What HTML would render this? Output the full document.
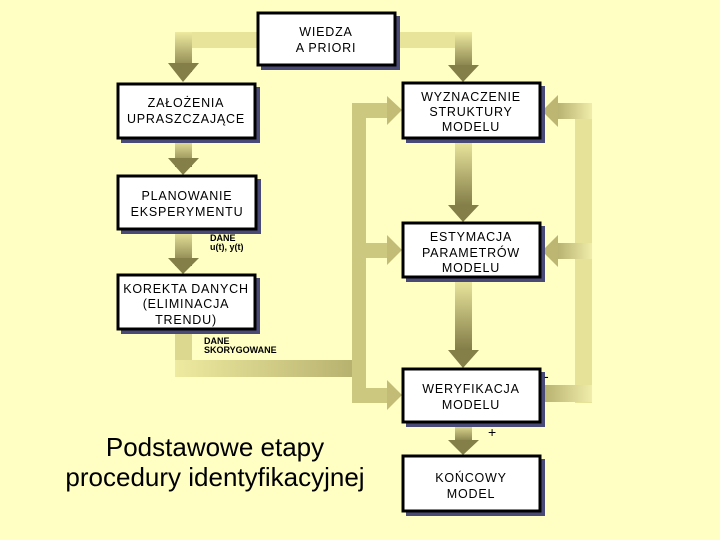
<!DOCTYPE html>
<html><head><meta charset="utf-8"><style>
body{margin:0;background:#ffffc4}
svg{display:block}
text{font-family:"Liberation Sans",sans-serif;fill:#000}
.b{font-size:12.5px;letter-spacing:0.8px;text-anchor:middle}
.s{font-size:9px;font-weight:bold}
</style></head><body>
<svg width="720" height="540" viewBox="0 0 720 540" xmlns="http://www.w3.org/2000/svg">
<defs>
<linearGradient id="gv" x1="0" y1="0" x2="0" y2="1"><stop offset="0" stop-color="#eeeaa0"/><stop offset="1" stop-color="#7e7844"/></linearGradient>
<linearGradient id="gh" x1="0" y1="0" x2="1" y2="0"><stop offset="0" stop-color="#eeeaa0"/><stop offset="1" stop-color="#b4ae6c"/></linearGradient>
<linearGradient id="ghr" x1="1" y1="0" x2="0" y2="0"><stop offset="0" stop-color="#f0ecaa"/><stop offset="1" stop-color="#b4ae6c"/></linearGradient>
</defs>
<rect width="720" height="540" fill="#ffffc4"/>
<rect x="175" y="32" width="90" height="16" fill="#e8e49a"/>
<rect x="175" y="32" width="17" height="40" fill="url(#gv)"/>
<polygon points="168,63 199,63 183,82" fill="#847e48"/>
<rect x="390" y="32" width="82" height="16" fill="#e8e49a"/>
<rect x="455" y="32" width="17" height="38" fill="url(#gv)"/>
<polygon points="448,65 479,65 463,82" fill="#847e48"/>
<rect x="175" y="139" width="17" height="28" fill="url(#gv)"/>
<polygon points="168,158 199,158 183,175" fill="#847e48"/>
<rect x="175" y="230" width="17" height="36" fill="url(#gv)"/>
<polygon points="168,258 199,258 183,274" fill="#847e48"/>
<rect x="175" y="330" width="17" height="46" fill="#dcd890"/>
<rect x="175" y="360" width="190" height="17" fill="url(#gh)"/>
<rect x="352" y="103" width="14" height="300" fill="#cdc880"/>
<rect x="352" y="103" width="40" height="15" fill="#cdc880"/>
<polygon points="387,96 387,125 402,110" fill="#c2bc76"/>
<rect x="352" y="243" width="40" height="15" fill="#cdc880"/>
<polygon points="387,235 387,265 402,250" fill="#c2bc76"/>
<rect x="352" y="388" width="40" height="15" fill="#cdc880"/>
<polygon points="387,380 387,410 402,395" fill="#c2bc76"/>
<rect x="575" y="103" width="17" height="300" fill="#e6e298"/>
<rect x="541" y="385" width="51" height="17" fill="url(#ghr)"/>
<rect x="555" y="103" width="37" height="16" fill="url(#ghr)"/>
<polygon points="558,95 558,127 542,111" fill="#bcb672"/>
<rect x="555" y="243" width="37" height="16" fill="url(#ghr)"/>
<polygon points="558,235 558,267 542,251" fill="#bcb672"/>
<rect x="455" y="139" width="17" height="70" fill="url(#gv)"/>
<polygon points="448,205 479,205 463,222" fill="#847e48"/>
<rect x="455" y="278" width="17" height="75" fill="url(#gv)"/>
<polygon points="448,350 479,350 463,368" fill="#847e48"/>
<rect x="455" y="423" width="17" height="20" fill="url(#gv)"/>
<polygon points="448,440 479,440 463,455" fill="#847e48"/>
<g fill="#4a4a78">
<rect x="261" y="16" width="139" height="54"/><rect x="121" y="87" width="139" height="56"/>
<rect x="406" y="86" width="139" height="57"/><rect x="121" y="179" width="140" height="55"/>
<rect x="406" y="226" width="139" height="56"/><rect x="121" y="278" width="139" height="56"/>
<rect x="406" y="372" width="139" height="55"/><rect x="406" y="459" width="139" height="57"/>
</g>
<g fill="#fff" stroke="#000" stroke-width="3">
<rect x="258" y="13" width="137" height="52"/><rect x="118" y="84" width="137" height="54"/>
<rect x="403" y="83" width="137" height="55"/><rect x="118" y="176" width="138" height="53"/>
<rect x="403" y="223" width="137" height="54"/><rect x="118" y="275" width="137" height="54"/>
<rect x="403" y="369" width="137" height="53"/><rect x="403" y="456" width="137" height="55"/>
</g>
<text class="b" x="326" y="36">WIEDZA</text><text class="b" x="326" y="52">A PRIORI</text>
<text class="b" x="186" y="107">ZAŁOŻENIA</text><text class="b" x="186" y="123">UPRASZCZAJĄCE</text>
<text class="b" x="471" y="101">WYZNACZENIE</text><text class="b" x="471" y="116">STRUKTURY</text><text class="b" x="471" y="131">MODELU</text>
<text class="b" x="187" y="200">PLANOWANIE</text><text class="b" x="187" y="216">EKSPERYMENTU</text>
<text class="b" x="471" y="241">ESTYMACJA</text><text class="b" x="471" y="257">PARAMETRÓW</text><text class="b" x="471" y="272">MODELU</text>
<text class="b" x="186" y="293">KOREKTA DANYCH</text><text class="b" x="186" y="308">(ELIMINACJA</text><text class="b" x="186" y="324">TRENDU)</text>
<text class="b" x="471" y="393">WERYFIKACJA</text><text class="b" x="471" y="409">MODELU</text>
<text class="b" x="471" y="482">KOŃCOWY</text><text class="b" x="471" y="498">MODEL</text>
<text class="s" x="210" y="241">DANE</text><text class="s" x="210" y="250">u(t), y(t)</text>
<text class="s" x="204" y="344">DANE</text><text class="s" x="204" y="353">SKORYGOWANE</text>
<text x="544" y="381" style="font-size:14px">-</text>
<text x="488" y="437" style="font-size:14px">+</text>
<text x="215" y="456" style="font-size:26px" text-anchor="middle">Podstawowe etapy</text>
<text x="215" y="486" style="font-size:26px" text-anchor="middle">procedury identyfikacyjnej</text>
</svg>
</body></html>
